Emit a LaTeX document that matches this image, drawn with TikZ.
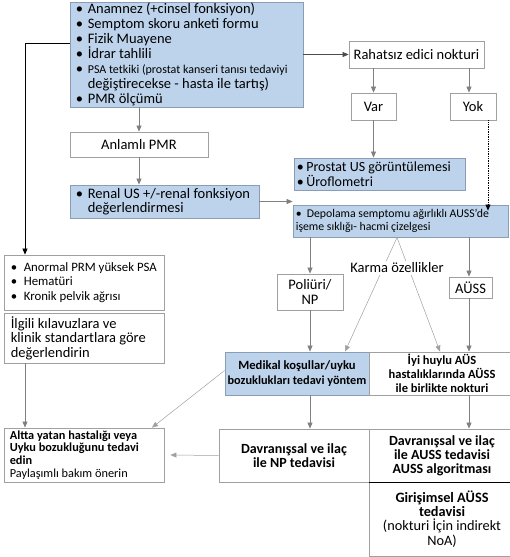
\documentclass[tikz,border=0pt]{standalone}
\usepackage{fontspec}
\setmainfont{Carlito}
\usetikzlibrary{arrows.meta}
\definecolor{bfill}{HTML}{BDD3EC}
\definecolor{bline}{HTML}{8A9DB5}
\definecolor{gline}{HTML}{A0A0A0}
\definecolor{aline}{HTML}{808080}
\newcommand{\fz}[2]{\fontsize{#1}{#2}\selectfont}
\newcommand{\bul}{\makebox[12pt][l]{\textbullet}}
\begin{document}
\begin{tikzpicture}[x=1pt,y=-1pt,
  box/.style={draw=gline, fill=white, line width=0.8pt, inner sep=0pt, align=center, font=\fz{14.5}{15}},
  bbox/.style={box, draw=bline, fill=bfill},
  txt/.style={anchor=west, inner sep=0pt, align=left},
  arr/.style={draw=aline, line width=0.7pt, -{Triangle[length=6pt,width=5pt]}},
  thin/.style={draw=gline, line width=0.5pt, -{Triangle[length=6pt,width=5pt]}}]
\useasboundingbox (0,0) rectangle (509,557);

% boxes
\node[bbox, minimum width=233, minimum height=105] (top) at (186.5,54.5) {};
\node[txt, font=\fz{14.5}{15}] (toptxt) at ([xshift=6pt]top.west) {%
\bul Anamnez (+cinsel fonksiyon)\\
\bul Semptom skoru anketi formu\\
\bul Fizik Muayene\\
\bul İdrar tahlili\\
\bul {\fz{12}{15}PSA tetkiki (prostat kanseri tanısı tedaviyi}\\
\hspace*{12pt}değiştirecekse - hasta ile tartış)\\
\bul PMR ölçümü};

\node[box, minimum width=135, minimum height=27] (rahat) at (416.5,54.5) {Rahatsız edici nokturi};
\node[box, minimum width=45, minimum height=27] (var) at (373.5,106.5) {Var};
\node[box, minimum width=46, minimum height=27] (yok) at (473,106.5) {Yok};
\node[box, minimum width=138, minimum height=25] (pmr) at (139,144.5) {Anlamlı PMR};

\node[bbox, minimum width=189, minimum height=33] (renal) at (164.5,201.5) {};
\node[txt, font=\fz{14.5}{13.5}] (renaltxt) at ([xshift=6pt]renal.west) {%
\bul Renal US +/-renal fonksiyon\\\hspace*{12pt}değerlendirmesi};

\node[bbox, minimum width=171, minimum height=32] (prostat) at (379.5,174) {};
\node[txt, font=\fz{14}{13.5}] (prostattxt) at ([xshift=3pt]prostat.west) {%
\makebox[9.5pt][l]{\textbullet}Prostat US görüntülemesi\\\makebox[9.5pt][l]{\textbullet}Üroflometri};

\node[bbox, minimum width=215, minimum height=32] (depo) at (400.5,221) {};
\node[txt, font=\fz{11.8}{13.3}] (depotxt) at ([xshift=3pt]depo.west) {%
\makebox[11pt][l]{\textbullet}Depolama semptomu ağırlıklı AUSS’de\\işeme sıklığı- hacmi çizelgesi};

\node[box, minimum width=160, minimum height=55] (anormal) at (84,282.5) {};
\node[txt, font=\fz{12.8}{14.5}] (anormaltxt) at ([xshift=7pt]anormal.west) {%
\makebox[13pt][l]{\textbullet}Anormal PRM yüksek PSA\\\makebox[13pt][l]{\textbullet}Hematüri\\\makebox[13pt][l]{\textbullet}Kronik pelvik ağrısı};

\node[box, minimum width=160, minimum height=50] (ilgili) at (84,338) {};
\node[txt, font=\fz{14.5}{14.5}] (ilgilitxt) at ([xshift=7pt]ilgili.west) {%
İlgili kılavuzlara ve\\klinik standartlara göre\\değerlendirin};

\node[box, minimum width=66, minimum height=36] (poli) at (310,292) {Poliüri/\\NP};
\node[box, minimum width=43, minimum height=21] (auss) at (470.5,287.5) {AÜSS};

\node[bbox, minimum width=144, minimum height=43, font=\bfseries\fz{12.6}{15}] (medikal) at (297,373.5) {%
Medikal koşullar/uyku\\{\fz{12.3}{15}bozuklukları tedavi yöntem}};
\node[box, minimum width=146, minimum height=43, font=\bfseries\fz{12.5}{14}] (iyi) at (442,373.5) {%
İyi huylu AÜS\\hastalıklarında AÜSS\\ile birlikte nokturi};

\node[box, minimum width=160, minimum height=54] (altta) at (84,455) {};
\node[txt, font=\fz{12.3}{12.7}] (alttatxt) at ([xshift=6pt]altta.west) {%
\textbf{Altta yatan hastalığı veya}\\\textbf{Uyku bozukluğunu tedavi}\\\textbf{edin}\\Paylaşımlı bakım önerin};

\node[box, minimum width=150, minimum height=53, font=\bfseries\fz{14}{14}] (davnp) at (294,455.5) {%
Davranışsal ve ilaç\\ile NP tedavisi};
\node[box, minimum width=146, minimum height=53, font=\bfseries\fz{14}{14}] (davauss) at (442,455.5) {%
Davranışsal ve ilaç\\ile AUSS tedavisi\\AUSS algoritması};
\node[box, minimum width=146, minimum height=74, font=\fz{14.3}{14.3}] (giris) at (442,519) {%
\textbf{Girişimsel AÜSS}\\\textbf{tedavisi}\\(nokturi İçin indirekt\\NoA)};
\draw[black, line width=0.8pt] (davauss.south west) -- (davauss.south east);

% connectors
\coordinate (c1) at (25,43);
\draw[arr, draw=black] (top.west |- c1) -- (c1) -- (c1 |- anormal.north);
\draw[arr] (top.south -| pmr.north) -- (pmr.north);
\draw[arr] (pmr.south) -- (renal.north -| pmr.south);
\draw[arr, draw=black!70] (top.east |- rahat.west) -- (rahat.west);
\draw[arr] (rahat.south -| var.north) -- (var.north);
\draw[arr] (rahat.south -| 469,0) -- (yok.north -| 469,0);
\draw[arr] (var.south) -- (var.south |- prostat.north);
\coordinate (c2) at (488,0);
\draw[black, line width=0.7pt, densely dotted, -{Triangle[length=6pt,width=5pt]}] (yok.south -| c2) -- ([yshift=-6pt]depo.north -| c2);
\draw[arr] (renal.east) -- (renal.east -| depo.west);
\draw[arr] (depo.south -| poli.north) -- (poli.north);
\draw[arr] (depo.south -| 469,0) -- (auss.north -| 469,0);
\draw[arr] (poli.south) -- (medikal.north -| poli.south);
\draw[arr] (auss.south -| 469,0) -- (iyi.north -| 469,0);
\coordinate (k0) at (397,237.5);
\draw[thin] (k0) -- (medikal.north -| 345,0);
\draw[thin] (k0) -- (iyi.north -| 440,0);
\node[fill=white, inner sep=2pt, font=\fz{14.5}{15}] (karma) at (397,268) {Karma özellikler};
\draw[arr] (ilgili.south -| c1) -- (altta.north -| c1);
\draw[thin] ([yshift=3pt]medikal.west) -- (altta.north -| 152,0);
\draw[thin] (davnp.west) -- ([xshift=6pt]altta.east);
\draw[arr] (medikal.south -| 310,0) -- (davnp.north -| 310,0);
\draw[arr] (iyi.south -| 469,0) -- (davauss.north -| 469,0);
\end{tikzpicture}
\end{document}
